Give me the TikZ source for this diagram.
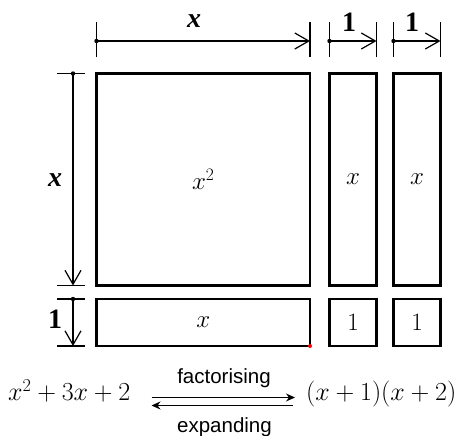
\RequirePackage{fix-cm}
\documentclass[tikz,border=0pt]{standalone}
\usepackage{fontspec}
\setmainfont{Liberation Serif}
\newfontfamily\wordfont{Liberation Sans}
\usetikzlibrary{arrows.meta,positioning}

\begin{document}
\begin{tikzpicture}[
  x=1pt, y=-1pt,
  node distance=13.5pt,
  tile/.style={rectangle, draw=black, line width=2.8pt, outer sep=0pt, inner sep=0pt, font=\fontsize{25}{28}\selectfont},
  tick/.style={line width=1.2pt},
  dimarr/.style={line width=1.2pt, -{Straight Barb[length=14pt,width=16pt]}},
  dimlbl/.style={font=\fontsize{28}{30}\selectfont\bfseries, inner sep=0pt},
  eqn/.style={font=\fontsize{26}{30}\selectfont, inner sep=0pt},
  word/.style={font=\wordfont\fontsize{20.5}{24}\selectfont, inner sep=0pt},
  swap/.style={line width=1.2pt, -{Stealth[length=9pt,width=8pt]}}
]
\useasboundingbox (0,0) rectangle (469,436);

% tiles
\node[tile, anchor=north west, minimum width=213.5pt, minimum height=212pt] (sq) at (96.5,73.5) {$x^2$};
\node[tile, minimum width=47pt, minimum height=212pt, right=19.5pt of sq] (c1) {$x$};
\node[tile, minimum width=47pt, minimum height=212pt, right=17pt of c1] (c2) {$x$};
\node[tile, minimum width=213.5pt, minimum height=47pt, below=of sq] (r1) {$x$};
\node[tile, minimum width=47pt, minimum height=47pt, below=of c1] (r2) {$1$};
\node[tile, minimum width=47pt, minimum height=47pt, below=of c2] (r3) {$1$};
\fill[red] (r1.south east) circle (2pt);

% widths along the top
\foreach \t in {sq,c1,c2} {
  \draw[tick] (\t.north west |- 0,22) -- (\t.north west |- 0,57);
  \draw[tick] (\t.north east |- 0,22) -- (\t.north east |- 0,57);
  \fill (\t.north west |- 0,41) circle (2.2pt);
  \draw[dimarr] (\t.north west |- 0,41) -- (\t.north east |- 0,41);
}
\node[dimlbl] (wx) at (194,21.5) {\itshape x};
\node[dimlbl] (w1) at (349,22) {1};
\node[dimlbl] (w2) at (412,22) {1};

% heights on the left
\foreach \t in {sq,r1} {
  \draw[tick] (\t.north west -| 57,0) -- (\t.north west -| 85,0);
  \draw[tick] (\t.south west -| 57,0) -- (\t.south west -| 85,0);
  \fill (\t.north west -| 73,0) circle (2.2pt);
  \draw[dimarr] (\t.north west -| 73,0) -- (\t.south west -| 73,0);
}
\node[dimlbl] (hx) at (55,180) {\itshape x};
\node[dimlbl] (h1) at (55,319) {1};

% equation
\node[eqn, anchor=base west] (lhs) at (8,400.5) {$x^2+3x+2$};
\node[eqn, anchor=base west] (rhs) at (306,400.5) {$(x+1)(x+2)$};
\coordinate (fa) at (151.5,397.5);
\coordinate (fb) at (295,397.5);
\coordinate (ea) at (293,405.5);
\coordinate (eb) at (151.5,405.5);
\draw[swap] (fa) -- (fb);
\draw[swap] (ea) -- (eb);
\node[word, anchor=base] (fact) at (224,383) {factorising};
\node[word, anchor=base] (expd) at (224.5,432) {expanding};
\end{tikzpicture}
\end{document}
